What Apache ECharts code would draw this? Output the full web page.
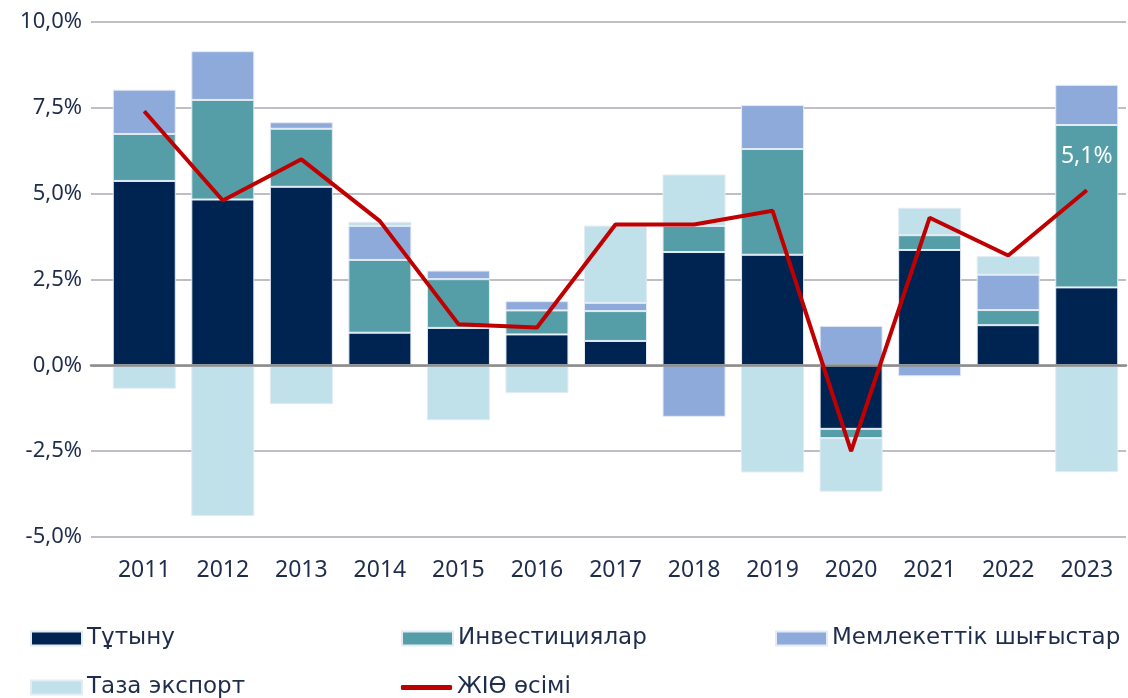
<!DOCTYPE html>
<html>
<head>
<meta charset="utf-8">
<script src="https://cdn.jsdelivr.net/npm/echarts@6/dist/echarts.min.js"></script>
<style>
  html, body { margin: 0; padding: 0; background: #fff; }
  #chart { width: 1128px; height: 698px; }
</style>
</head>
<body>
<div id="chart"></div>
<script>
// data
const years = ['2011','2012','2013','2014','2015','2016','2017','2018','2019','2020','2021','2022','2023'];
const consumption = [5.37, 4.83, 5.20, 0.95, 1.09, 0.90, 0.71, 3.30, 3.22, -1.85, 3.36, 1.17, 2.27];
const investment  = [1.37, 2.90, 1.69, 2.12, 1.42, 0.70, 0.87, 0.76, 3.08, -0.27, 0.43, 0.44, 4.73];
const government  = [1.29, 1.42, 0.19, 0.99, 0.25, 0.27, 0.24, -1.50, 1.28, 1.15, -0.32, 1.03, 1.17];
const netExport   = [-0.68, -4.39, -1.13, 0.12, -1.60, -0.81, 2.25, 1.50, -3.12, -1.56, 0.80, 0.54, -3.11];
const gdpGrowth   = [7.4, 4.8, 6.0, 4.2, 1.2, 1.1, 4.1, 4.1, 4.5, -2.5, 4.3, 3.2, 5.1];

const names = ['Тұтыну', 'Инвестициялар', 'Мемлекеттік шығыстар', 'Таза экспорт', 'ЖІӨ өсімі'];
const colors = ['#002451', '#559ea8', '#8eaadb', '#c0e1ea', '#c00000'];

const font = 'Noto Sans';
const legendFont = 'DejaVu Sans';
const textColor = '#1f2d4d';
const fmt = v => v.toFixed(1).replace('.', ',') + '%';

const chart = echarts.init(document.getElementById('chart'));

function legendAt(name, left, top, extra) {
    return Object.assign({
        data: [name],
        left: left,
        top: top,
        padding: 0,
        itemWidth: 51,
        itemHeight: 14,
        icon: 'rect',
        textStyle: { fontFamily: legendFont, fontSize: 23, color: textColor },
        selectedMode: false
    }, extra || {});
}

function barSeries(i, data) {
    return {
        name: names[i],
        type: 'bar',
        stack: 'total',
        xAxisIndex: 1,
        yAxisIndex: 1,
        data: data,
        barWidth: 63,
        itemStyle: { color: colors[i], borderColor: '#e3ebf5', borderWidth: 1 },
        emphasis: { disabled: true }
    };
}

// grid 0 carries the value axis, gridlines and zero line (they start a little left of the bars)
// grid 1 carries the categories and the series
let option = {
    animation: false,
    color: colors,
    grid: [
        { left: 91, right: 2, top: 22, bottom: 161 },
        { left: 105, right: 2, top: 22, bottom: 161 }
    ],
    legend: [
        legendAt(names[0], 30, 627),
        legendAt(names[1], 401, 627),
        legendAt(names[2], 775, 627),
        legendAt(names[3], 30, 676),
        legendAt(names[4], 401, 676, { icon: 'roundRect', itemHeight: 5 })
    ],
    xAxis: [
        {
            gridIndex: 0,
            type: 'value',
            min: 0,
            max: 1,
            z: 10,
            axisLine: { show: true, onZero: true, lineStyle: { color: '#8c8c8c', width: 2.5 } },
            axisTick: { show: false },
            axisLabel: { show: false },
            splitLine: { show: false }
        },
        {
            gridIndex: 1,
            type: 'category',
            data: years,
            axisLine: { show: false, onZero: false },
            axisTick: { show: false },
            axisLabel: { fontFamily: font, fontSize: 23, color: textColor, margin: 22 }
        }
    ],
    yAxis: [
        {
            gridIndex: 0,
            type: 'value',
            min: -5,
            max: 10,
            interval: 2.5,
            axisLine: { show: false },
            axisTick: { show: false },
            axisLabel: { fontFamily: font, fontSize: 22, color: textColor, margin: 9, formatter: fmt },
            splitLine: { lineStyle: { color: '#a8a8b0', width: 1.5 } }
        },
        {
            gridIndex: 1,
            type: 'value',
            min: -5,
            max: 10,
            interval: 2.5,
            axisLine: { show: false },
            axisTick: { show: false },
            axisLabel: { show: false },
            splitLine: { show: false }
        }
    ],
    series: [
        barSeries(0, consumption),
        barSeries(1, investment),
        barSeries(2, government),
        barSeries(3, netExport),
        {
            name: names[4],
            type: 'line',
            xAxisIndex: 1,
            yAxisIndex: 1,
            data: gdpGrowth,
            z: 12,
            symbol: 'circle',
            symbolSize: 1,
            showSymbol: true,
            lineStyle: { color: colors[4], width: 4 },
            itemStyle: { color: colors[4] },
            emphasis: { disabled: true },
            label: {
                show: true,
                position: 'top',
                distance: 22,
                fontFamily: font,
                fontSize: 23,
                color: '#ffffff',
                formatter: p => p.dataIndex === years.length - 1 ? fmt(p.value) : ''
            }
        }
    ]
};

chart.setOption(option);
</script>
</body>
</html>
